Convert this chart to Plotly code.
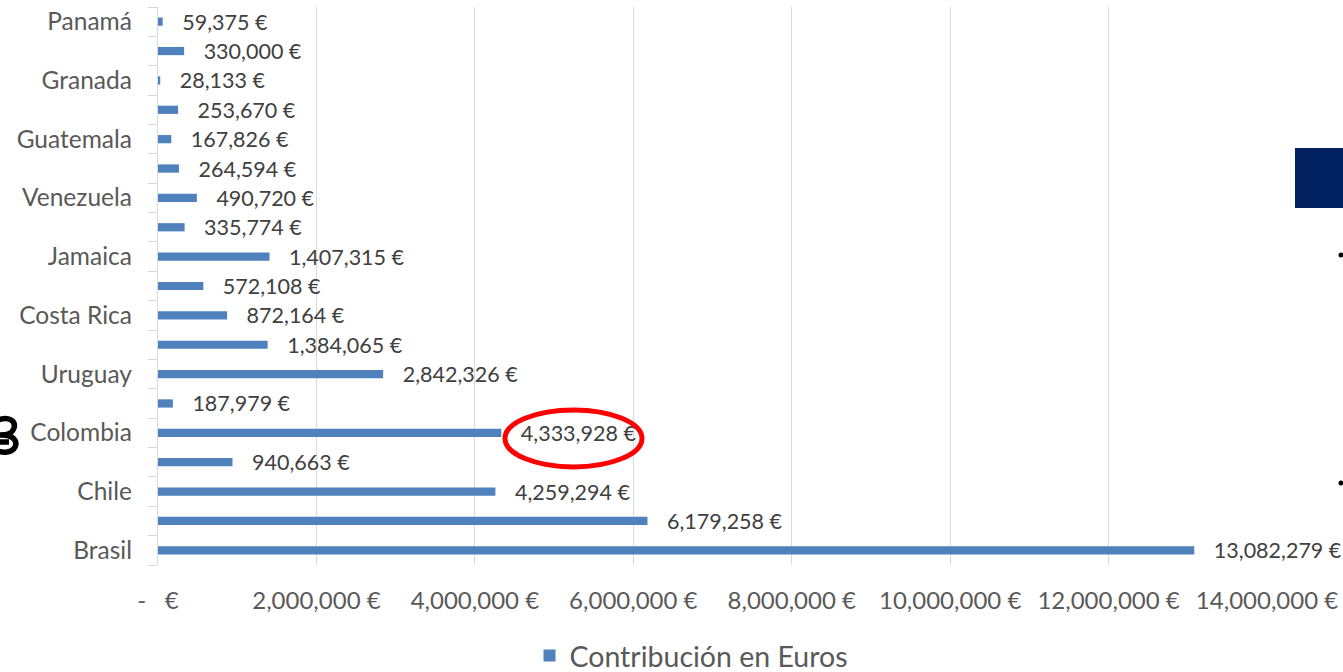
import plotly.graph_objects as go

# Categories listed bottom-to-top (as drawn)
categories = ["Brasil", "País 2", "Chile", "País 4", "Colombia", "País 6", "Uruguay",
              "País 8", "Costa Rica", "País 10", "Jamaica", "País 12", "Venezuela",
              "País 14", "Guatemala", "País 16", "Granada", "País 18", "Panamá"]
tick_labels = ["Brasil", "", "Chile", "", "Colombia", "", "Uruguay", "", "Costa Rica", "",
               "Jamaica", "", "Venezuela", "", "Guatemala", "", "Granada", "", "Panamá"]
values = [13082279, 6179258, 4259294, 940663, 4333928, 187979, 2842326, 1384065, 872164,
          572108, 1407315, 335774, 490720, 264594, 167826, 253670, 28133, 330000, 59375]
series_name = "Contribución en Euros"
x_tick_values = [0, 2000000, 4000000, 6000000, 8000000, 10000000, 12000000, 14000000]
x_tick_labels = ["-   €", "2,000,000 €", "4,000,000 €", "6,000,000 €", "8,000,000 €",
                 "10,000,000 €", "12,000,000 €", "14,000,000 €"]

W, H = 1343, 672
ML, MR, MT, MB = 158, 76, 7, 107
PW, PH = W - ML - MR, H - MT - MB

def px(x):
    return (x - ML) / PW

def py(y):
    return (H - MB - y) / PH

labels = ["\u00a0\u00a0\u00a0" + f"{v:,} €" for v in values]

fig = go.Figure()
fig.add_trace(go.Bar(
    y=categories, x=values, orientation="h", name=series_name,
    marker=dict(color="#4f81bd", line=dict(width=0)),
    text=labels, textposition="outside", cliponaxis=False, constraintext="none",
    textfont=dict(family="Lato", size=21.5, color="#404040"),
    hoverinfo="x+y", showlegend=True,
))

shapes = []
# red ellipse around Colombia label
shapes.append(dict(type="circle", xref="x", yref="y", x0=4.38e6, x1=6.11e6, y0=2.84, y1=4.78,
                   line=dict(color="#ff0000", width=5)))
# navy rectangle at right edge
shapes.append(dict(type="rect", xref="paper", yref="paper", x0=px(1295), x1=px(1345),
                   y0=py(208), y1=py(148), fillcolor="#002060", line=dict(width=0), layer="above"))
# small dots at right edge
for yy in (255, 483):
    shapes.append(dict(type="circle", xref="paper", yref="paper", x0=px(1338.5), x1=px(1343.5),
                       y0=py(yy + 2.5), y1=py(yy - 2.5), fillcolor="#000000", line=dict(width=0)))
# partial glyph at left edge
def pt(x, y):
    return f"{px(x):.5f},{py(y):.5f}"
path = ("M " + pt(-2, 420) + " C " + pt(9, 416) + " " + pt(16, 421) + " " + pt(14, 428)
        + " C " + pt(12, 434) + " " + pt(7, 435) + " " + pt(0, 435)
        + " M " + pt(2, 435) + " C " + pt(13, 435) + " " + pt(18, 441) + " " + pt(15, 447)
        + " C " + pt(12, 453) + " " + pt(3, 453) + " " + pt(-2, 451)
        + " M " + pt(-2, 442) + " L " + pt(9, 442))
shapes.append(dict(type="path", xref="paper", yref="paper", path=path,
                   line=dict(color="#000000", width=5.5)))

fig.update_layout(
    width=W, height=H,
    margin=dict(l=ML, r=MR, t=MT, b=MB, autoexpand=False),
    paper_bgcolor="white", plot_bgcolor="white",
    bargap=0.72,
    font=dict(family="Lato", color="#595959"),
    shapes=shapes,
    legend=dict(orientation="h", x=px(691), xanchor="center", y=py(656), yanchor="middle",
                font=dict(family="Lato", size=28.5, color="#595959"), itemwidth=30),
    xaxis=dict(range=[0, 14000000], tickvals=x_tick_values, ticktext=x_tick_labels,
               showgrid=True, gridcolor="#d9d9d9", gridwidth=1.3, zeroline=False,
               showline=False, ticks="", ticklabelstandoff=19,
               tickfont=dict(family="Lato", size=24, color="#595959")),
    yaxis=dict(type="category", categoryorder="array", categoryarray=categories,
               tickvals=categories, ticktext=tick_labels, range=[-0.5, 18.5],
               showgrid=False, showline=True, linecolor="#d9d9d9", linewidth=1.3,
               ticks="outside", tickson="boundaries", ticklen=9, tickcolor="#d9d9d9",
               tickwidth=1.3, ticklabelstandoff=20,
               tickfont=dict(family="Lato", size=24.5, color="#595959")),
)

fig.write_html("out.html", config={"displayModeBar": False},
               post_script="document.body.style.margin='0';document.body.style.overflow='hidden';")
